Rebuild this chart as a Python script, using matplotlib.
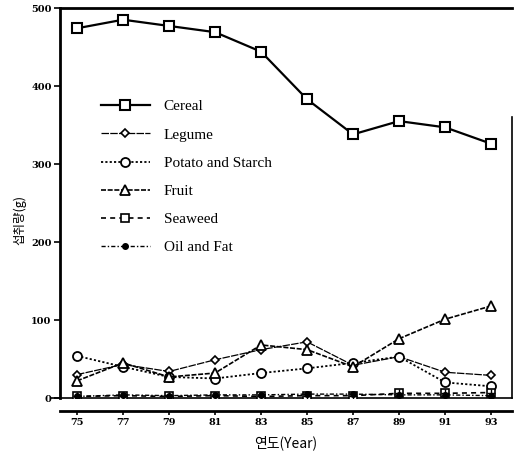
import matplotlib
matplotlib.use("Agg")
import matplotlib.pyplot as plt
from matplotlib.lines import Line2D

years = [75, 77, 79, 81, 83, 85, 87, 89, 91, 93]
year_labels = ["75", "77", "79", "81", "83", "85", "87", "89", "91", "93"]
cereal = [474, 485, 477, 469, 444, 383, 338, 355, 347, 326]
legume = [30, 43, 34, 49, 62, 72, 42, 53, 33, 29]
potato = [54, 40, 27, 25, 32, 38, 45, 53, 20, 15]
fruit = [22, 45, 27, 32, 68, 62, 40, 76, 101, 118]
seaweed = [2, 3, 2, 3, 2, 3, 3, 6, 6, 7]
oil = [2, 4, 3, 4, 4, 5, 5, 4, 4, 3]
yticks = [0, 100, 200, 300, 400, 500]
ytick_labels = ["0", "100", "200", "300", "400", "500"]

fig = plt.figure(figsize=(5.14, 4.53), dpi=100)
ax = fig.add_axes([60/514, 55/453, 452/514, 390/453])

k = "black"
ax.spines["bottom"].set_position(("outward", 9))
ax.spines["bottom"].set_linewidth(2.0)
ax.spines["left"].set_linewidth(2.0)
ax.spines["top"].set_linewidth(2.0)
ax.spines["right"].set_linewidth(1.2)

ax.plot(years, cereal, color=k, lw=1.6, ls="-", marker="s", ms=6.5, mfc="white", mec=k, mew=1.5, zorder=5)
ax.plot(years, legume, color=k, lw=0.9, ls=(0, (6, 1)), marker="D", ms=4.5, mfc="white", mec=k, mew=1.2, zorder=4)
ax.plot(years, potato, color=k, lw=1.3, ls=(0, (1.2, 1.2)), marker="o", ms=6.5, mfc="white", mec=k, mew=1.3, zorder=4)
ax.plot(years, fruit, color=k, lw=1.2, ls=(0, (3, 1)), marker="^", ms=6.5, mfc="white", mec=k, mew=1.3, zorder=4)
ax.plot(years, seaweed, color=k, lw=1.2, ls=(0, (3, 2.5)), marker="s", ms=6, mfc="white", mec=k, mew=1.2, zorder=4)
ax.plot(years, seaweed, ls="none", marker="+", ms=6, mec=k, mew=1.0, zorder=6)
ax.plot(years, oil, color=k, lw=1.0, ls=(0, (3, 1.5, 1, 1.5)), marker="o", ms=4, mfc=k, mec=k, zorder=4)

ax.set_xlim(74.26, 93.91)
ax.set_ylim(0, 500)
ax.spines["right"].set_bounds(0, 360)
tickfont = dict(fontsize=7, fontweight="bold", family="DejaVu Serif")
ax.set_xticks(years)
ax.set_xticklabels(year_labels, **tickfont)
ax.set_yticks(yticks)
ax.set_yticklabels(ytick_labels, **tickfont)
ax.tick_params(axis="both", direction="out", length=4, width=1.2, colors=k)
ax.tick_params(axis="x", pad=2.5, length=3)
ax.tick_params(axis="y", pad=2)
ax.axhline(0, color=k, lw=1.2, xmin=-0.02, clip_on=False, zorder=3)

ax.set_ylabel("섭취량(g)", family=["Noto Sans CJK KR", "DejaVu Sans"], fontsize=9)
ax.yaxis.set_label_coords(-0.09, 0.456)
ax.yaxis.label.set_va("center")
ax.set_xlabel("연도(Year)", family=["Noto Sans CJK KR", "DejaVu Sans"], fontsize=10)
ax.xaxis.set_label_coords(0.5, -0.115)
ax.xaxis.label.set_va("center")

handles = [
    Line2D([], [], color=k, lw=1.6, ls="-", marker="s", ms=6.5, mfc="white", mec=k, mew=1.5),
    Line2D([], [], color=k, lw=0.9, ls=(0, (6, 1)), marker="D", ms=4.5, mfc="white", mec=k, mew=1.2),
    Line2D([], [], color=k, lw=1.3, ls=(0, (1.2, 1.2)), marker="o", ms=6.5, mfc="white", mec=k, mew=1.3),
    Line2D([], [], color=k, lw=1.2, ls=(0, (3, 1)), marker="^", ms=6.5, mfc="white", mec=k, mew=1.3),
    Line2D([], [], color=k, lw=1.2, ls=(0, (3, 2.5)), marker="s", ms=6, mfc="white", mec=k, mew=1.2),
    Line2D([], [], color=k, lw=1.0, ls=(0, (3, 1.5, 1, 1.5)), marker="o", ms=4, mfc=k, mec=k),
]
names = ["Cereal", "Legume", "Potato and Starch", "Fruit", "Seaweed", "Oil and Fat"]
leg = ax.legend(handles, names, loc="upper left", bbox_to_anchor=(0.06, 0.80), frameon=False,
                prop={"family": "Liberation Serif", "size": 11}, labelspacing=0.95,
                handlelength=3.2, handletextpad=0.9)

fig.savefig("out.png", dpi=100)
